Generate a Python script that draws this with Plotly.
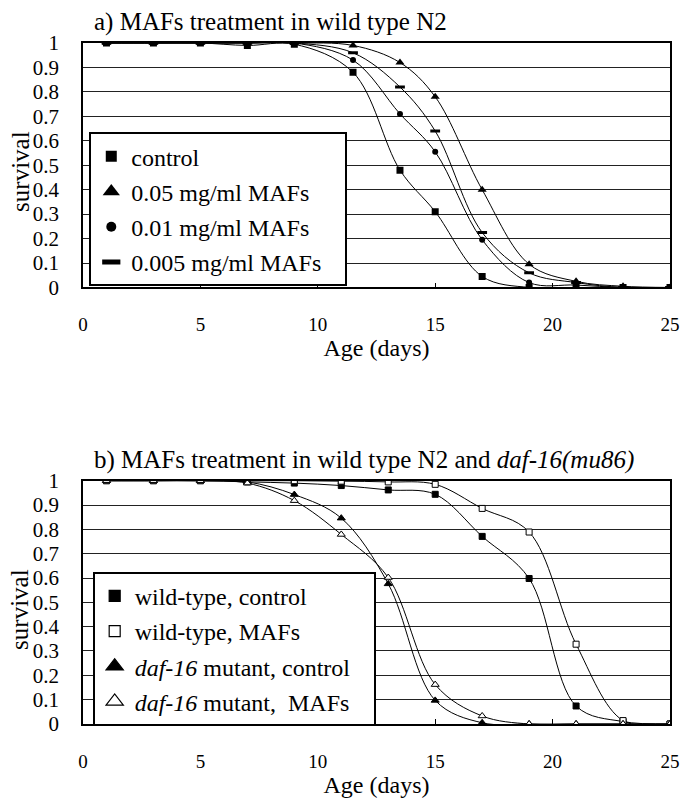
import plotly.graph_objects as go

# ---------------- data ----------------
days_a = [1, 3, 5, 7, 9, 11.5, 13.5, 15, 17, 19, 21, 23, 25]
control_a = [1, 1, 1, 0.99, 0.995, 0.88, 0.48, 0.31, 0.045, 0, 0, 0, 0]
mafs_005 = [1, 1, 1, 1, 1, 0.99, 0.92, 0.78, 0.40, 0.095, 0.025, 0.005, 0]
mafs_001 = [1, 1, 1, 1, 1, 0.93, 0.71, 0.555, 0.195, 0.02, 0.01, 0, 0]
mafs_0005 = [1, 1, 1, 1, 1, 0.96, 0.82, 0.64, 0.225, 0.06, 0.02, 0, 0]

days_b = [1, 3, 5, 7, 9, 11, 13, 15, 17, 19, 21, 23, 25]
wt_control = [1, 1, 1, 0.995, 0.99, 0.98, 0.962, 0.944, 0.771, 0.598, 0.074, 0.01, 0]
wt_mafs = [1, 1, 1, 1, 1, 0.998, 0.995, 0.985, 0.886, 0.789, 0.328, 0.014, 0]
daf_control = [1, 1, 1, 0.995, 0.943, 0.846, 0.576, 0.097, 0.005, 0, 0, 0, 0]
daf_mafs = [1, 1, 1, 0.99, 0.918, 0.779, 0.602, 0.162, 0.033, 0, 0, 0, 0]

x_ticks = [0, 5, 10, 15, 20, 25]
y_ticks = [0, 0.1, 0.2, 0.3, 0.4, 0.5, 0.6, 0.7, 0.8, 0.9, 1]
y_ticktext = ["0", "0.1", "0.2", "0.3", "0.4", "0.5", "0.6", "0.7", "0.8", "0.9", "1"]

FONT = "Liberation Serif"
PAD = "\u00a0\u00a0\u00a0"

fig = go.Figure()

series_a = [
    ("control", control_a, "square", 7, 11, 0),
    ("0.05 mg/ml MAFs", mafs_005, "triangle-up", 8, 15, 0),
    ("0.01 mg/ml MAFs", mafs_001, "circle", 6, 10, 0),
    ("0.005 mg/ml MAFs" + PAD, mafs_0005, "line-ew", 7, 13, 3),
]
for i, (name, ys, sym, sz, lsz, lw) in enumerate(series_a):
    fig.add_trace(go.Scatter(
        x=days_a, y=ys, mode="lines+markers", showlegend=False,
        line=dict(color="black", width=1, shape="spline", smoothing=1),
        marker=dict(symbol=sym, size=sz, color="black",
                    line=dict(color="black", width=lw)),
        xaxis="x", yaxis="y", hoverinfo="skip"))
    fig.add_trace(go.Scatter(
        x=[None], y=[None], mode="markers", name=name, legend="legend",
        legendgroup="a%d" % i,
        marker=dict(symbol=sym, size=lsz, color="black",
                    line=dict(color="black", width=(6 if lw else 0))),
        xaxis="x", yaxis="y"))

series_b = [
    ("wild-type, control", wt_control, "square", 6, 11, False),
    ("wild-type, MAFs", wt_mafs, "square", 6, 11, True),
    ("<i>daf-16</i> mutant, control" + PAD, daf_control, "triangle-up", 7, 15, False),
    ("<i>daf-16</i> mutant, \u00a0MAFs", daf_mafs, "triangle-up", 7, 15, True),
]
for i, (name, ys, sym, sz, lsz, hollow) in enumerate(series_b):
    fill = "white" if hollow else "black"
    fig.add_trace(go.Scatter(
        x=days_b, y=ys, mode="lines+markers", showlegend=False,
        line=dict(color="black", width=1, shape="spline", smoothing=1),
        marker=dict(symbol=sym, size=sz, color=fill,
                    line=dict(color="black", width=1)),
        xaxis="x2", yaxis="y2", hoverinfo="skip"))
    fig.add_trace(go.Scatter(
        x=[None], y=[None], mode="markers", name=name, legend="legend2",
        legendgroup="b%d" % i,
        marker=dict(symbol=sym, size=lsz, color=fill,
                    line=dict(color="black", width=1.2)),
        xaxis="x2", yaxis="y2"))

xax = dict(range=[0, 25], tickvals=x_ticks, ticks="inside", ticklen=5, tickcolor="black",
           showline=True, linecolor="black", linewidth=1.5, mirror=True, automargin=False,
           showgrid=False, zeroline=False, tickfont=dict(size=19, family=FONT, color="black"),
           ticklabelstandoff=19,
           title=dict(text="Age (days)", font=dict(size=24, family=FONT, color="black"), standoff=0))
yax = dict(range=[0, 1], tickvals=y_ticks, ticktext=y_ticktext, ticks="", automargin=False,
           showline=True, linecolor="black", linewidth=1.5, mirror=True,
           showgrid=True, gridcolor="#222222", gridwidth=1, zeroline=False,
           tickfont=dict(size=21, family=FONT, color="black"), ticklabelstandoff=18)

fig.update_layout(
    width=684, height=798,
    margin=dict(l=83, r=14, t=43, b=74),
    paper_bgcolor="white", plot_bgcolor="white",
    font=dict(family=FONT, color="black"),
    xaxis=dict(domain=[0, 1], anchor="y", **xax),
    yaxis=dict(domain=[0.641, 1.0], anchor="x", **yax),
    xaxis2=dict(domain=[0, 1], anchor="y2", **xax),
    yaxis2=dict(domain=[0, 0.3573], anchor="x2", **yax),
    legend=dict(x=0.0107, y=0.869, xanchor="left", yanchor="top", tracegroupgap=1,
                bgcolor="white", bordercolor="black", borderwidth=2,
                font=dict(size=24, family=FONT, color="black"), itemclick=False),
    legend2=dict(x=0.0165, y=0.2236, xanchor="left", yanchor="top", tracegroupgap=1,
                 bgcolor="white", bordercolor="black", borderwidth=2,
                 font=dict(size=24, family=FONT, color="black"), itemclick=False),
    annotations=[
        dict(text="a) MAFs treatment in wild type N2", x=0.0153, y=1.031,
             xref="paper", yref="paper", xanchor="left", yanchor="middle",
             showarrow=False, font=dict(size=25, family=FONT, color="black")),
        dict(text="b) MAFs treatment in wild type N2 and <i>daf-16(mu86)</i>", x=0.0153, y=0.3877,
             xref="paper", yref="paper", xanchor="left", yanchor="middle",
             showarrow=False, font=dict(size=25, family=FONT, color="black")),
        dict(text="survival", textangle=-90, x=-0.1075, y=0.812,
             xref="paper", yref="paper", xanchor="center", yanchor="middle",
             showarrow=False, font=dict(size=25, family=FONT, color="black")),
        dict(text="survival", textangle=-90, x=-0.1075, y=0.1689,
             xref="paper", yref="paper", xanchor="center", yanchor="middle",
             showarrow=False, font=dict(size=25, family=FONT, color="black")),
    ],
)

fig.write_html("out.html", config={"displayModeBar": False},
               post_script="document.body.style.margin='0';")
